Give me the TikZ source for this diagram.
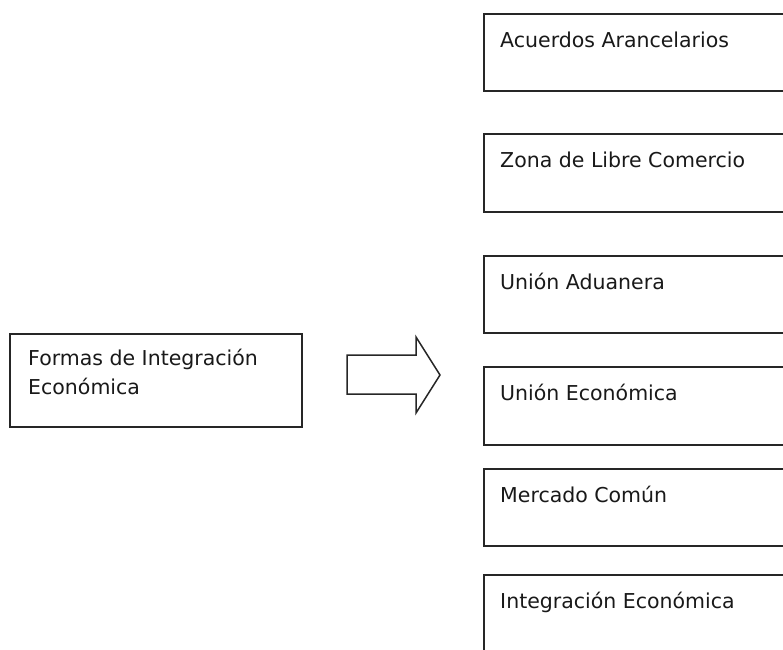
\documentclass[tikz,border=0pt]{standalone}
\usepackage{fontspec}
\setmainfont{DejaVu Sans}
\begin{document}
\begin{tikzpicture}[x=1pt,y=-1pt,
  box/.style={draw=black!85,line width=1.6pt},
  lbl/.style={anchor=base west,inner sep=0pt,font=\fontsize{20.5}{26}\selectfont,text=black!90}]
\useasboundingbox (0,0) rectangle (783,649);
\clip (0,0) rectangle (783,649);
% left box
\draw[box] (10,334) rectangle (302,427);
\node[lbl] (lt1) at (28,365) {Formas de Integración};
\node[lbl] (lt2) at (28,394) {Económica};
% block arrow
\draw[box,line width=1.5pt,line join=miter] (347,355) -- (416,355) -- (416,337) -- (440,375) -- (416,413) -- (416,394) -- (347,394) -- cycle;
% right boxes
\foreach \t/\b/\n/\s in {14/91/a/Acuerdos Arancelarios,134/212/b/Zona de Libre Comercio,256/333/c/Unión Aduanera,367/445/d/Unión Económica,469/546/e/Mercado Común,575/660/f/Integración Económica}{
  \draw[box] (484,\t) rectangle (800,\b);
  \node[lbl] (\n) at (500,\t+33) {\s};
}
\end{tikzpicture}
\end{document}
